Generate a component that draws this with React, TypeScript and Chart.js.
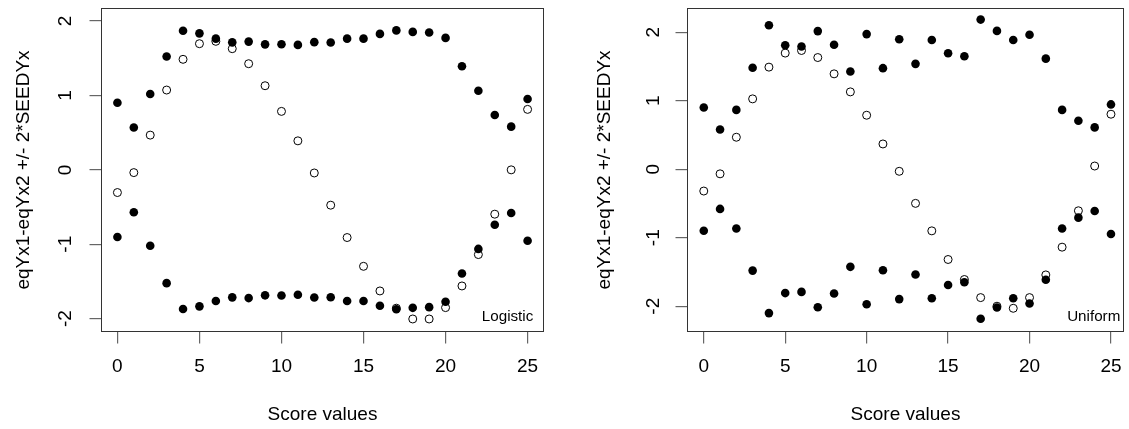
import React, { useEffect, useRef } from "react";
import { Chart, registerables } from "chart.js";

Chart.register(...registerables);

// ---------- data ----------
const scores = [0, 1, 2, 3, 4, 5, 6, 7, 8, 9, 10, 11, 12, 13, 14, 15, 16, 17, 18, 19, 20, 21, 22, 23, 24, 25];
const xTicks = [0, 5, 10, 15, 20, 25];
const yTicks = [-2, -1, 0, 1, 2];

// eqYx1 - eqYx2 (open circles)
const diffLogistic = [-0.305, -0.037, 0.467, 1.073, 1.486, 1.696, 1.728, 1.629, 1.427, 1.131, 0.786, 0.39, -0.042, -0.475, -0.91, -1.297, -1.628, -1.86, -2.005, -2.005, -1.852, -1.561, -1.139, -0.596, 0.0, 0.813];
// 2*SEEDYx (filled circles, plotted as +/-)
const bandLogistic = [0.902, 0.57, 1.02, 1.523, 1.87, 1.835, 1.764, 1.714, 1.724, 1.687, 1.689, 1.68, 1.717, 1.712, 1.764, 1.764, 1.828, 1.875, 1.855, 1.846, 1.774, 1.393, 1.063, 0.738, 0.581, 0.953];

const diffUniform = [-0.319, -0.068, 0.466, 1.026, 1.489, 1.694, 1.732, 1.629, 1.391, 1.128, 0.787, 0.368, -0.031, -0.499, -0.9, -1.318, -1.61, -1.874, -2.0, -2.03, -1.874, -1.543, -1.138, -0.607, 0.046, 0.802];
const bandUniform = [0.899, 0.58, 0.865, 1.48, 2.1, 1.808, 1.791, 2.015, 1.815, 1.425, 1.971, 1.474, 1.896, 1.537, 1.884, 1.691, 1.649, 2.183, 2.018, 1.884, 1.961, 1.613, 0.865, 0.707, 0.61, 0.945];

const xTitle = "Score values";
const yTitle = "eqYx1-eqYx2 +/- 2*SEEDYx";
const labelLogistic = "Logistic";
const labelUniform = "Uniform";

const FONT = '"Liberation Sans", Arial, Helvetica, sans-serif';

type Panel = {
  label: string;
  diff: number[];
  band: number[];
  xMin: number;
  xMax: number;
  yMin: number;
  yMax: number;
  left: number;
  width: number;
  axisW: number;
  padRight: number;
  yTickPad: number;
  yTitlePad: number;
  legendInset: number;
};

const panels: Panel[] = [
  {
    label: labelLogistic, diff: diffLogistic, band: bandLogistic,
    xMin: -1, xMax: 26, yMin: -2.18, yMax: 2.176,
    left: 0, width: 564, axisW: 101, padRight: 20, yTickPad: 15, yTitlePad: 12.6, legendInset: 10.7,
  },
  {
    label: labelUniform, diff: diffUniform, band: bandUniform,
    xMin: -1.03, xMax: 25.8, yMin: -2.376, yMax: 2.352,
    left: 564, width: 565, axisW: 123, padRight: 1, yTickPad: 13.4, yTitlePad: 29.6, legendInset: 3.7,
  },
];

const boxPlugin = {
  id: "rbox",
  afterDraw(chart: any, _args: any, opts: any) {
    const { ctx, chartArea: a } = chart;
    ctx.save();
    ctx.strokeStyle = "#333";
    ctx.lineWidth = 1;
    const l = Math.floor(a.left) + 0.5;
    const t = Math.floor(a.top) + 0.5;
    const r = Math.floor(a.right) - 0.5;
    const b = Math.floor(a.bottom) - 0.5;
    ctx.strokeRect(l, t, r - l, b - t);
    ctx.fillStyle = "#000";
    ctx.font = `15.2px ${FONT}`;
    ctx.textAlign = "right";
    ctx.textBaseline = "alphabetic";
    ctx.fillText(opts.text, a.right - opts.inset, a.bottom - 11.5);
    ctx.restore();
  },
};

function PanelChart({ p }: { p: Panel }) {
  const ref = useRef<HTMLCanvasElement | null>(null);
  useEffect(() => {
    if (!ref.current) return;
    const upper = scores.map((x, i) => ({ x, y: p.band[i] }));
    const lower = scores.map((x, i) => ({ x, y: -p.band[i] }));
    const diff = scores.map((x, i) => ({ x, y: p.diff[i] }));
    const gridCfg = {
      drawOnChartArea: false,
      drawTicks: true,
      tickLength: 11.5,
      color: "#666",
      lineWidth: 1.2,
    };
    const chart = new Chart(ref.current, {
      type: "scatter",
      data: {
        datasets: [
          { data: upper, pointRadius: 4.3, pointBackgroundColor: "#000", pointBorderColor: "#000", pointBorderWidth: 0 },
          { data: lower, pointRadius: 4.3, pointBackgroundColor: "#000", pointBorderColor: "#000", pointBorderWidth: 0 },
          { data: diff, pointRadius: 4, pointBackgroundColor: "rgba(0,0,0,0)", pointBorderColor: "#000", pointBorderWidth: 1 },
        ],
      } as any,
      options: {
        animation: false,
        responsive: false,
        devicePixelRatio: 1,
        clip: false as any,
        layout: { padding: { top: 8, right: p.padRight, bottom: 0, left: 0 } },
        plugins: {
          legend: { display: false },
          tooltip: { enabled: false },
          rbox: { text: p.label, inset: p.legendInset },
        } as any,
        scales: {
          x: {
            type: "linear",
            min: p.xMin,
            max: p.xMax,
            afterBuildTicks: (s: any) => {
              s.ticks = xTicks.map((v) => ({ value: v }));
            },
            afterFit: (s: any) => {
              s.height = 97;
              s.paddingLeft = 0;
              s.paddingRight = 0;
            },
            grid: gridCfg,
            border: { display: false },
            ticks: { color: "#000", font: { family: FONT, size: 19 }, padding: 12, maxRotation: 0, autoSkip: false },
            title: { display: true, text: xTitle, color: "#000", font: { family: FONT, size: 19 }, padding: { top: 0, bottom: 3 } },
          },
          y: {
            type: "linear",
            min: p.yMin,
            max: p.yMax,
            afterBuildTicks: (s: any) => {
              s.ticks = yTicks.map((v) => ({ value: v }));
            },
            afterFit: (s: any) => {
              s.width = p.axisW;
              s.paddingTop = 0;
              s.paddingBottom = 0;
            },
            grid: gridCfg,
            border: { display: false },
            ticks: {
              color: "#000",
              font: { family: FONT, size: 19 },
              padding: p.yTickPad,
              minRotation: 90,
              maxRotation: 90,
              crossAlign: "center",
              autoSkip: false,
            },
            title: { display: true, text: yTitle, color: "#000", font: { family: FONT, size: 19 }, padding: { top: p.yTitlePad, bottom: 0 } },
          },
        } as any,
      },
      plugins: [boxPlugin],
    });
    return () => chart.destroy();
  }, [p]);
  return (
    <canvas
      ref={ref}
      width={p.width}
      height={429}
      style={{ position: "absolute", left: p.left, top: 0, width: p.width, height: 429 }}
    />
  );
}

export default function App() {
  return (
    <div style={{ position: "fixed", left: 0, top: 0, width: 1129, height: 429, background: "#fff", overflow: "hidden" }}>
      {panels.map((p, i) => (
        <PanelChart key={i} p={p} />
      ))}
    </div>
  );
}
